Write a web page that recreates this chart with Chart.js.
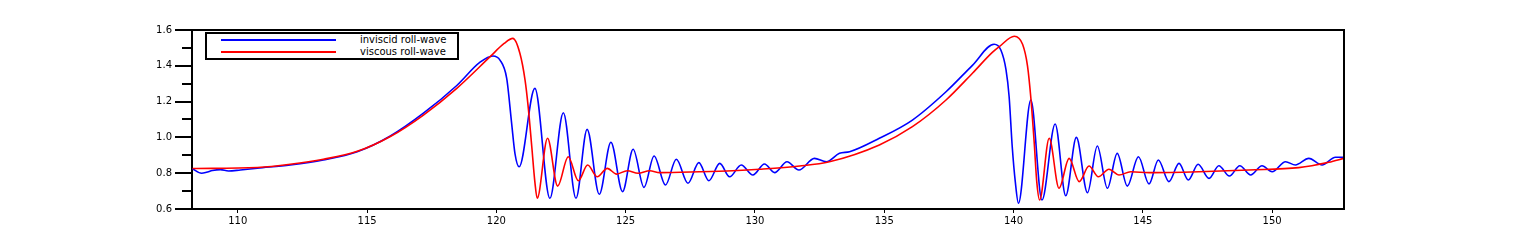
<html>
    <head>
        <style>
            body { margin: 0; background: #fff; }
            #wrap { position: relative; width: 1537px; height: 240px; }
            #legend {
                position: absolute; left: 205px; top: 32px; width: 250px; height: 24px;
                border: 2px solid #000; background: #fff;
                font-family: "DejaVu Sans", sans-serif; font-size: 10px; color: #000;
            }
            .row { position: relative; height: 12px; }
            .swatch { position: absolute; left: 14px; top: 5px; width: 115px; height: 2px; }
            .label { position: absolute; left: 153px; top: 0; line-height: 12px; white-space: nowrap; }
        </style>
        <script src="https://cdn.jsdelivr.net/npm/chart.js"></script>
    </head>
    <body>
        <div id="wrap">
            <canvas id="chart" width="1537" height="240"></canvas>
            <div id="legend"></div>
        </div>
        <script>
            // values
            var seriesNames = ['inviscid roll-wave', 'viscous roll-wave'];
            var xTicks = [110, 115, 120, 125, 130, 135, 140, 145, 150];
            var yTicks = [0.6, 0.8, 1.0, 1.2, 1.4, 1.6];
            var yMinorTicks = [0.7, 0.9, 1.1, 1.3, 1.5];

            var invX = [108.25, 108.60, 108.79, 109.02, 109.33, 109.64, 110.10, 110.76, 112.03, 113.31,
                        114.62, 115.90, 117.18, 118.47, 119.37, 119.87, 120.14, 120.40,
                        120.59, 120.72, 120.88, 121.49, 122.07, 122.59, 123.08, 123.51, 123.98, 124.43,
                        124.88, 125.29, 125.71, 126.10, 126.54, 126.96, 127.41, 127.83, 128.22, 128.64,
                        129.02, 129.47, 129.92, 130.37, 130.76, 131.24, 131.70, 132.30, 132.76, 133.27,
                        133.66, 134.81, 136.09, 137.39, 138.42, 139.25, 139.51, 139.71, 139.83, 139.95,
                        140.07, 140.19, 140.67, 141.10, 141.61, 142.02, 142.43, 142.86, 143.24, 143.63,
                        144.01, 144.40, 144.83, 145.24, 145.60, 146.01, 146.40, 146.76, 147.14, 147.56,
                        147.94, 148.35, 148.75, 149.17, 149.61, 150.00, 150.52, 150.90, 151.42, 151.93,
                        152.45, 152.78];
            var invY = [0.825, 0.800, 0.805, 0.815, 0.820, 0.812, 0.818, 0.828, 0.846, 0.874,
                        0.920, 1.008, 1.135, 1.290, 1.420, 1.455, 1.432, 1.330,
                        1.080, 0.910, 0.836, 1.274, 0.660, 1.138, 0.660, 1.045, 0.682, 0.973,
                        0.697, 0.934, 0.721, 0.896, 0.734, 0.878, 0.744, 0.859, 0.758, 0.855,
                        0.780, 0.846, 0.790, 0.851, 0.803, 0.864, 0.818, 0.883, 0.864, 0.911,
                        0.920, 0.995, 1.097, 1.255, 1.404, 1.520, 1.488, 1.377, 1.227, 0.948,
                        0.750, 0.632, 1.209, 0.650, 1.075, 0.674, 1.000, 0.691, 0.952, 0.716,
                        0.911, 0.728, 0.892, 0.740, 0.874, 0.753, 0.855, 0.762, 0.850, 0.771,
                        0.842, 0.784, 0.842, 0.790, 0.842, 0.808, 0.864, 0.846, 0.883, 0.846,
                        0.889, 0.889];

            var visX = [108.25, 110.76, 112.03, 113.31, 114.62, 115.90, 117.18, 118.47,
                        119.76, 120.30, 120.64, 120.91, 121.11, 121.23, 121.37, 121.49, 121.58, 121.98,
                        122.37, 122.78, 123.17, 123.53, 123.90, 124.29, 124.65, 125.06, 125.48, 125.93,
                        126.32, 127.86, 129.14, 130.18, 131.73, 132.88, 134.81, 136.09, 137.39, 138.42,
                        139.18, 139.45, 140.03, 140.35, 140.54, 140.67, 140.80, 140.90, 141.01, 141.38,
                        141.76, 142.15, 142.54, 142.92, 143.28, 143.69, 144.08, 144.53, 145.24, 147.17,
                        149.10, 151.03, 152.19, 152.78];
            var visY = [0.826, 0.832, 0.850, 0.878, 0.922, 1.005, 1.125, 1.274,
                        1.451, 1.525, 1.553, 1.470, 1.320, 1.172, 0.948, 0.750, 0.660, 0.995,
                        0.728, 0.892, 0.758, 0.846, 0.780, 0.827, 0.795, 0.814, 0.800, 0.814,
                        0.803, 0.808, 0.814, 0.822, 0.840, 0.864, 0.958, 1.060, 1.209, 1.360,
                        1.475, 1.507, 1.565, 1.520, 1.400, 1.220, 0.970, 0.750, 0.650, 0.995,
                        0.716, 0.883, 0.753, 0.840, 0.780, 0.822, 0.790, 0.808, 0.803, 0.808,
                        0.818, 0.831, 0.861, 0.883];

            var colors = ['#0000ff', '#ff0000'];

            function pairs(xs, ys) {
                return xs.map(function(x, i) { return {x: x, y: ys[i]}; });
            }

            // minor ticks on y axis and top/right frame
            var framePlugin = {
                id: 'frame',
                afterDraw: function(chart) {
                    var ctx = chart.ctx, a = chart.chartArea, ys = chart.scales.y;
                    ctx.save();
                    ctx.strokeStyle = '#000';
                    ctx.lineWidth = 2;
                    ctx.beginPath();
                    ctx.moveTo(a.left, a.top);
                    ctx.lineTo(a.right, a.top);
                    ctx.lineTo(a.right, a.bottom);
                    for (var i = 0; i < yMinorTicks.length; i++) {
                        var py = Math.round(ys.getPixelForValue(yMinorTicks[i]));
                        ctx.moveTo(a.left - 10, py);
                        ctx.lineTo(a.left, py);
                    }
                    ctx.stroke();
                    ctx.restore();
                }
            };

            var ctx = document.getElementById('chart').getContext('2d');
            var myChart = new Chart(ctx, {
                type: 'line',
                data: {
                    datasets: [{
                        label: seriesNames[0],
                        data: pairs(invX, invY),
                        borderColor: colors[0],
                        borderWidth: 1.6,
                        pointRadius: 0,
                        cubicInterpolationMode: 'monotone',
                        order: 1
                    }, {
                        label: seriesNames[1],
                        data: pairs(visX, visY),
                        borderColor: colors[1],
                        borderWidth: 1.6,
                        pointRadius: 0,
                        cubicInterpolationMode: 'monotone',
                        order: 0
                    }]
                },
                options: {
                    responsive: false,
                    animation: false,
                    layout: { padding: { left: 0, right: 193, top: 30, bottom: 0 } },
                    plugins: { legend: { display: false }, tooltip: { enabled: false } },
                    scales: {
                        x: {
                            type: 'linear',
                            min: 108.23,
                            max: 152.78,
                            afterBuildTicks: function(s) { s.ticks = xTicks.map(function(v) { return {value: v}; }); },
                            afterFit: function(s) { s.height = 31; },
                            border: { color: '#000', width: 2 },
                            grid: { drawOnChartArea: false, color: '#000', lineWidth: 1, tickLength: 4 },
                            ticks: { color: '#000', padding: 2, maxRotation: 0,
                                     font: { family: 'DejaVu Sans', size: 10 } }
                        },
                        y: {
                            min: 0.6,
                            max: 1.6,
                            afterBuildTicks: function(s) { s.ticks = yTicks.map(function(v) { return {value: v}; }); },
                            afterFit: function(s) { s.width = 192; },
                            border: { color: '#000', width: 2 },
                            grid: { drawOnChartArea: false, color: '#000', lineWidth: 2, tickLength: 17 },
                            ticks: { color: '#000', padding: 3,
                                     callback: function(v) { return v.toFixed(1); },
                                     font: { family: 'DejaVu Sans', size: 10 } }
                        }
                    }
                },
                plugins: [framePlugin]
            });

            // legend box built from the datasets
            var legend = document.getElementById('legend');
            myChart.data.datasets.forEach(function(ds) {
                var row = document.createElement('div');
                row.className = 'row';
                row.innerHTML = '<div class="swatch" style="background:' + ds.borderColor + '"></div>' +
                                '<div class="label">' + ds.label + '</div>';
                legend.appendChild(row);
            });
        </script>
    </body>
</html>
